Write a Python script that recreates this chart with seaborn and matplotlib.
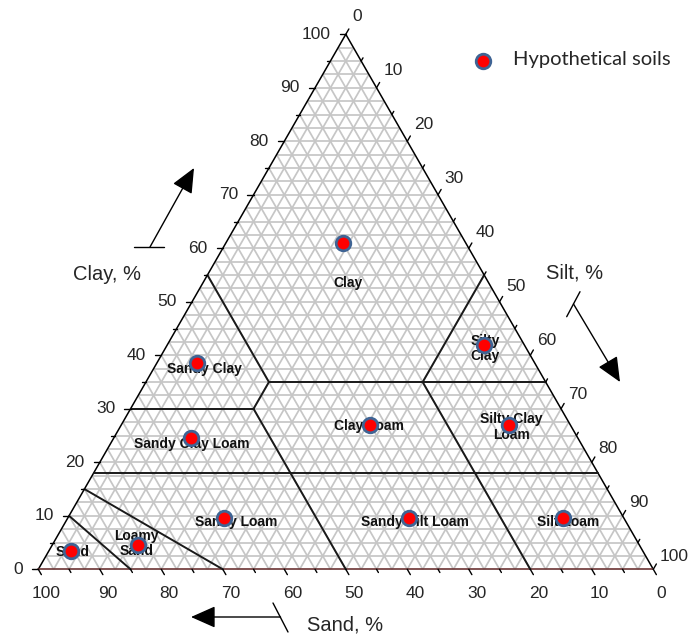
import numpy as np
import pandas as pd
import matplotlib
matplotlib.use("Agg")
import matplotlib.pyplot as plt
from matplotlib.collections import LineCollection
import seaborn as sns

# ---------------- data ----------------
soil_names = ["Clay", "Sandy Clay", "Sandy Clay Loam", "Sandy Loam", "Loamy Sand", "Sand",
              "Clay Loam", "Silty Clay", "Silty Clay Loam", "Sandy Silt Loam", "Silt Loam"]
soil_sand = [20, 55, 63, 65, 81.5, 93, 32.5, 6.5, 10, 35, 10]
soil_silt = [19, 6.5, 12.5, 25.5, 14, 3.5, 40.5, 51.5, 63, 55.5, 80.5]
soil_clay = [61, 38.5, 24.5, 9.5, 4.5, 3.5, 27, 42, 27, 9.5, 9.5]

class_labels = ["Clay", "Sandy Clay", "Sandy Clay Loam", "Clay Loam", "Silty\nClay",
                "Silty Clay\nLoam", "Sandy Loam", "Sandy Silt Loam", "Silt Loam",
                "Loamy\nSand", "Sand"]
class_label_sand = [22.9, 54.3, 63.4, 32.8, 6.7, 9.8, 63.5, 34.4, 9.5, 81.7, 92.7]
class_label_clay = [53.5, 37.4, 23.4, 26.8, 41.3, 26.6, 8.8, 8.8, 8.8, 4.8, 3.3]

# class boundaries: (sand, clay) start -> end
bound_sand = [(82, 0), (70, 50), (50, 50), (50, 45), (45, 45), (45, 0), (20, 0), (20, 20), (90, 85), (85, 70)]
bound_clay = [(18, 18), (30, 30), (30, 0), (30, 35), (35, 55), (35, 35), (35, 55), (35, 0), (10, 0), (15, 0)]

tick_values = [0, 10, 20, 30, 40, 50, 60, 70, 80, 90, 100]
minor_values = [5, 15, 25, 35, 45, 55, 65, 75, 85, 95]

# ---------------- helpers ----------------
def tern(sand, clay):
    sand = np.asarray(sand, float)
    clay = np.asarray(clay, float)
    return 100 - sand - clay / 2.0, clay

X0, Y0, SX, SY = 38.3, 569.3, 6.15, 5.35   # pixel frame of the triangle
def px(x, y):
    return (x - X0) / SX, (Y0 - y) / SY

sns.set_theme(style="white")
plt.rcParams["font.family"] = ["Liberation Sans", "DejaVu Sans"]

fig = plt.figure(figsize=(6.92, 6.36), dpi=100)
ax = fig.add_axes([0, 0, 1, 1])
ax.set_xlim(px(0, 0)[0], px(692, 0)[0])
ax.set_ylim(px(0, 636)[1], px(0, 0)[1])
ax.axis("off")

# ---------------- grid ----------------
segs = []
for k in np.arange(2.5, 100, 2.5):
    segs.append([(k / 2, k), (100 - k / 2, k)])
    x1, y1 = tern(k, 0)
    x2, y2 = tern(k, 100 - k)
    segs.append([(x1, y1), (x2, y2)])
    x1, y1 = tern(100 - k, 0)
    x2, y2 = tern(0, 100 - k)
    segs.append([(x1, y1), (x2, y2)])
ax.add_collection(LineCollection(segs, colors="#c6c6c6", linewidths=1.25, zorder=1))

# ---------------- triangle ----------------
ax.plot([0, 50, 100], [0, 100, 0], color="black", lw=1.1, zorder=3, solid_capstyle="butt")
ax.plot([0, 100], [0, 0], color="#6b3434", lw=1.2, zorder=3)

# ---------------- boundaries ----------------
for (s1, s2), (c1, c2) in zip(bound_sand, bound_clay):
    xa, ya = tern([s1, s2], [c1, c2])
    ax.plot(xa, ya, color="#1a1a1a", lw=1.4, zorder=3)

# ---------------- ticks ----------------
tick_fs = 12.5
for v in tick_values + minor_values:
    major = v in tick_values
    L = 1.0 if major else 0.6
    ax.plot([v / 2, v / 2 - L], [v, v], color="black", lw=1.0, zorder=3)
    bx = 100 - v
    ax.plot([bx, bx + 0.5 * L], [0, -L], color="black", lw=1.0, zorder=3)
    c = 100 - v
    rx = v + c / 2
    ax.plot([rx, rx + 0.5 * L], [c, c + L], color="black", lw=1.0, zorder=3)
    if major:
        ax.text(v / 2 - 2.5, v, f"{v}", ha="right", va="center", fontsize=tick_fs)
        ax.text(bx + 1.3, -4.5, f"{v}", ha="center", va="center", fontsize=tick_fs)
        up = (12.6 + 0.05 * c) / SY
        ax.text(rx + 1.1, c + up, f"{v}", ha="left", va="center", fontsize=tick_fs)

# ---------------- class labels ----------------
lx, ly = tern(class_label_sand, class_label_clay)
for name, x, y in zip(class_labels, lx, ly):
    ax.text(x, y, name, ha="center", va="center", fontsize=10, fontweight="bold",
            linespacing=1.12, zorder=4, color="#111111")

# ---------------- points ----------------
sx, sy = tern(soil_sand, soil_clay)
df = pd.DataFrame({"soil": soil_names, "sand": soil_sand, "silt": soil_silt,
                   "clay": soil_clay, "X": sx, "Y": sy})
sns.scatterplot(data=df, x="X", y="Y", ax=ax, s=110, color="#ff0000",
                edgecolor="#3f6494", linewidth=2.0, legend=False, zorder=6)

# legend
lmx, lmy = px(483.3, 61)
ax.scatter([lmx], [lmy], s=110, color="#ff0000", edgecolor="#3f6494", linewidth=2.0, zorder=6)
tx, ty = px(512.7, 60)
ax.text(tx, ty, "Hypothetical soils", ha="left", va="center", fontsize=14.5,
        family=["Lato", "DejaVu Sans"])

# ---------------- axis titles & arrows ----------------
ax.text(*px(107.5, 275), "Clay, %", ha="center", va="center", fontsize=14.5)
ax.text(*px(575, 273.3), "Silt, %", ha="center", va="center", fontsize=14.5)
ax.text(*px(345, 625), "Sand, %", ha="center", va="center", fontsize=14.5)

def arrow(tail, tip):
    ax.annotate("", xy=px(*tip), xytext=px(*tail),
                arrowprops=dict(arrowstyle="-|>,head_length=0.9,head_width=0.4",
                                color="black", lw=1.0, shrinkA=0, shrinkB=0,
                                mutation_scale=17))

def seg(p1, p2):
    a, b = px(*p1), px(*p2)
    ax.plot([a[0], b[0]], [a[1], b[1]], color="black", lw=1.0)

seg((134, 247), (164, 247))
arrow((150, 247), (194, 168))
seg((566.7, 316.7), (580, 291.7))
arrow((573.5, 304), (620, 382))
seg((273, 603), (288, 632))
arrow((280.5, 617), (191, 617))

fig.savefig("out.png", dpi=100, facecolor="white")
